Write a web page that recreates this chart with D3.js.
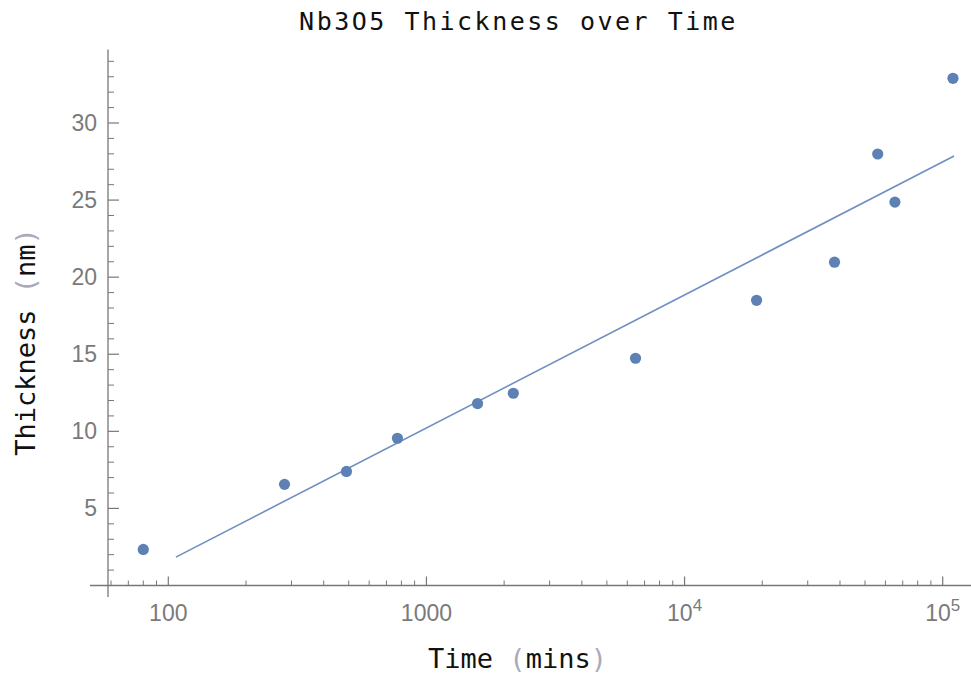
<!DOCTYPE html>
<html>
<head>
<meta charset="utf-8">
<script src="https://cdn.jsdelivr.net/npm/d3@7"></script>
<style>
  html, body { margin: 0; padding: 0; background: #fff; }
  svg { display: block; }
</style>
</head>
<body>
<svg id="chart" width="971" height="681"></svg>
<script>
// ---- data ----
const times = [80, 282, 490, 772, 1578, 2171, 6457, 19010, 38100, 56000, 65300, 109600];
const thickness = [2.34, 6.56, 7.4, 9.55, 11.8, 12.47, 14.74, 18.5, 20.97, 27.99, 24.87, 32.9];
// fitted line endpoints (time, thickness)
const fitTimes = [107, 110700];
const fitThickness = [1.84, 27.86];
// ticks
const xMajorTicks = [100, 1000, 10000, 100000];
const xMajorLabels = [["100", ""], ["1000", ""], ["10", "4"], ["10", "5"]];
const xMinorTicks = [60, 70, 80, 90, 200, 300, 400, 500, 600, 700, 800, 900,
  2000, 3000, 4000, 5000, 6000, 7000, 8000, 9000,
  20000, 30000, 40000, 50000, 60000, 70000, 80000, 90000];
const yMajorTicks = [5, 10, 15, 20, 25, 30];
const yMinorTicks = [1, 2, 3, 4, 6, 7, 8, 9, 11, 12, 13, 14, 16, 17, 18, 19, 21, 22, 23, 24, 26, 27, 28, 29, 31, 32, 33, 34];
const title = "Nb3O5 Thickness over Time";

// ---- scales ----
const x = d3.scaleLog().domain([100, 100000]).range([168.3, 942.7]);
const y = d3.scaleLinear().domain([0, 30]).range([585.5, 123]);

const svg = d3.select("#chart");
const axisColor = "#777";
const labelColor = "#7a7a7a";
const mono = "'DejaVu Sans Mono', monospace";
const sans = "'Liberation Sans', Arial, sans-serif";

const xAxisY = y(0);
const yAxisX = 108;

// axes lines
svg.append("line").attr("x1", 90).attr("x2", 971).attr("y1", xAxisY).attr("y2", xAxisY)
  .attr("stroke", axisColor).attr("stroke-width", 1.3);
svg.append("line").attr("x1", yAxisX).attr("x2", yAxisX).attr("y1", 49.5).attr("y2", 597)
  .attr("stroke", axisColor).attr("stroke-width", 1.3);

// x ticks
svg.append("g").selectAll("line").data(xMinorTicks).join("line")
  .attr("x1", d => x(d)).attr("x2", d => x(d))
  .attr("y1", xAxisY).attr("y2", xAxisY - 5)
  .attr("stroke", axisColor).attr("stroke-width", 1);
svg.append("g").selectAll("line").data(xMajorTicks).join("line")
  .attr("x1", d => x(d)).attr("x2", d => x(d))
  .attr("y1", xAxisY).attr("y2", xAxisY - 9)
  .attr("stroke", axisColor).attr("stroke-width", 1.2);

// y ticks
svg.append("g").selectAll("line").data(yMinorTicks).join("line")
  .attr("x1", yAxisX).attr("x2", yAxisX + 6)
  .attr("y1", d => y(d)).attr("y2", d => y(d))
  .attr("stroke", axisColor).attr("stroke-width", 1);
svg.append("g").selectAll("line").data(yMajorTicks).join("line")
  .attr("x1", yAxisX).attr("x2", yAxisX + 11)
  .attr("y1", d => y(d)).attr("y2", d => y(d))
  .attr("stroke", axisColor).attr("stroke-width", 1.2);

// x tick labels
const xl = svg.append("g").selectAll("text").data(xMajorTicks).join("text")
  .attr("x", d => x(d)).attr("y", 621)
  .attr("text-anchor", "middle")
  .attr("font-family", sans).attr("font-size", 23).attr("fill", labelColor);
xl.each(function(d, i) {
  const t = d3.select(this);
  const [base, sup] = xMajorLabels[i];
  t.append("tspan").text(base);
  if (sup) {
    t.append("tspan").text(sup).attr("font-size", 17).attr("dy", -10);
  }
});

// y tick labels
svg.append("g").selectAll("text").data(yMajorTicks).join("text")
  .attr("x", 97).attr("y", d => y(d))
  .attr("dy", "0.35em")
  .attr("text-anchor", "end")
  .attr("font-family", sans).attr("font-size", 23).attr("fill", labelColor)
  .text(d => d);

// fit line
const line = d3.line().x(d => x(d[0])).y(d => y(d[1]));
svg.append("path")
  .datum(fitTimes.map((t, i) => [t, fitThickness[i]]))
  .attr("d", line)
  .attr("fill", "none")
  .attr("stroke", "#6f8fc2")
  .attr("stroke-width", 1.6);

// points
svg.append("g").selectAll("circle").data(times).join("circle")
  .attr("cx", d => x(d)).attr("cy", (d, i) => y(thickness[i]))
  .attr("r", 5.6)
  .attr("fill", "#5e81b5");

// title
svg.append("text").attr("x", 518.5).attr("y", 29.5)
  .attr("text-anchor", "middle")
  .attr("font-family", mono).attr("font-size", 25).attr("letter-spacing", 2.5)
  .attr("fill", "#111")
  .text(title);

// x axis label
const xlab = svg.append("text").attr("x", 517.5).attr("y", 668)
  .attr("text-anchor", "middle")
  .attr("font-family", mono).attr("font-size", 27).attr("fill", "#111");
xlab.append("tspan").text("Time ");
xlab.append("tspan").text("(").attr("fill", "#aab");
xlab.append("tspan").text("mins");
xlab.append("tspan").text(")").attr("fill", "#aab");

// y axis label
const ylab = svg.append("text")
  .attr("transform", "translate(35,342) rotate(-90)")
  .attr("text-anchor", "middle")
  .attr("font-family", mono).attr("font-size", 27).attr("fill", "#111");
ylab.append("tspan").text("Thickness ");
ylab.append("tspan").text("(").attr("fill", "#aab");
ylab.append("tspan").text("nm");
ylab.append("tspan").text(")").attr("fill", "#aab");
</script>
</body>
</html>
